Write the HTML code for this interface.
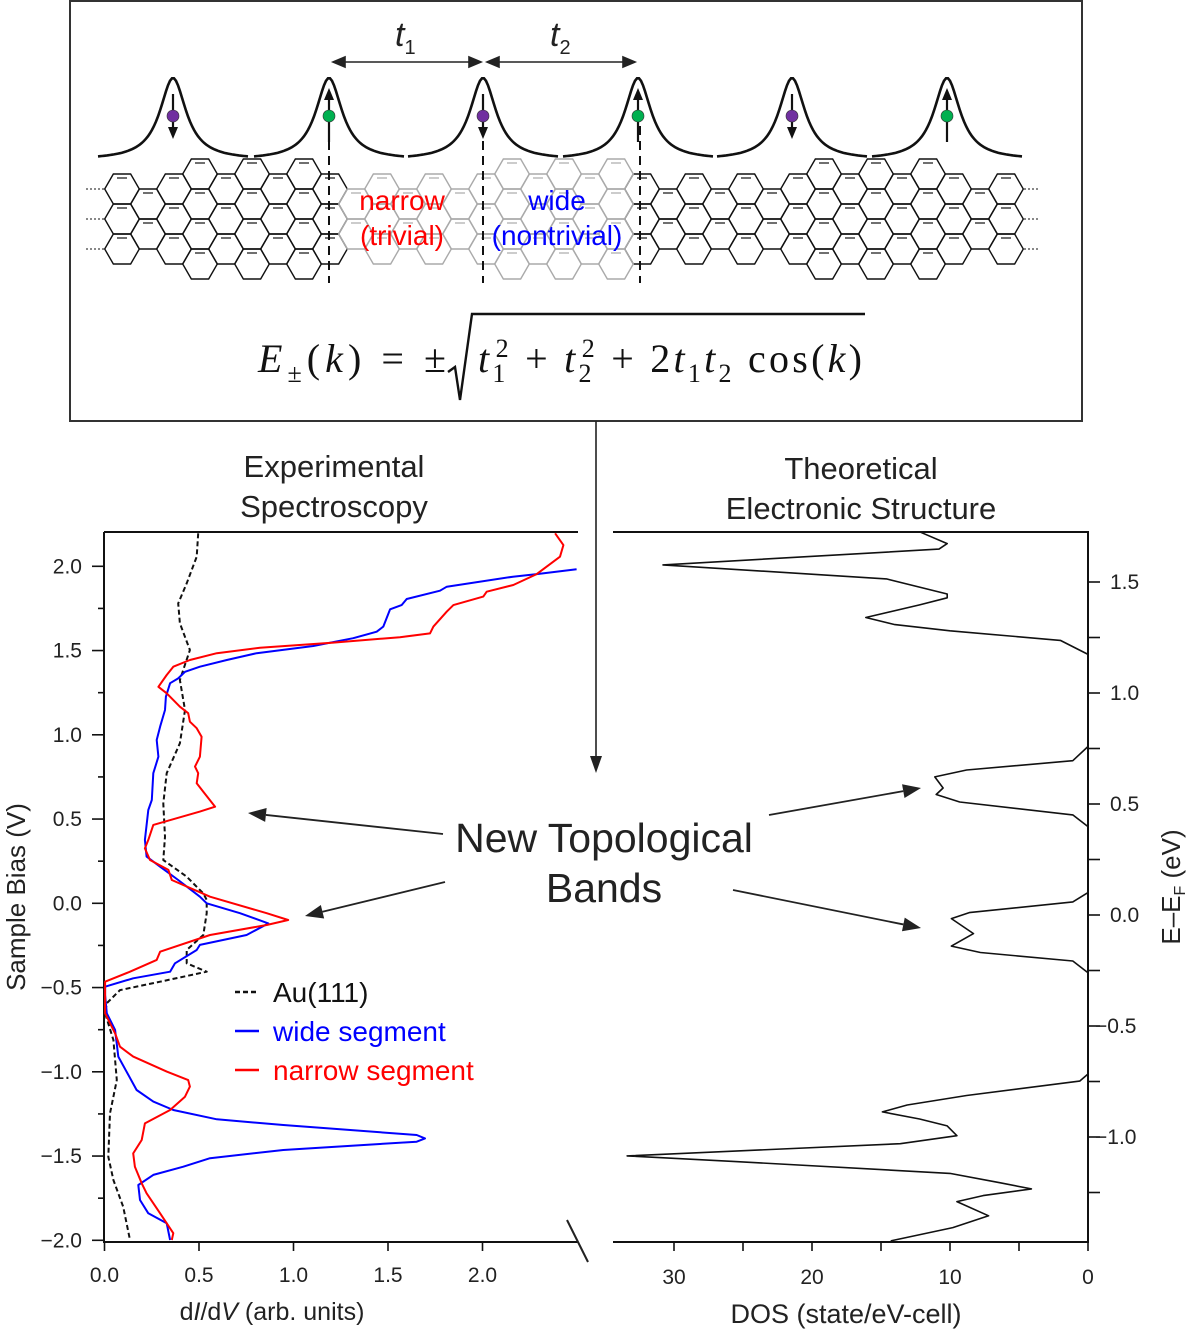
<!DOCTYPE html>
<html><head><meta charset="utf-8"><title>Topological bands figure</title>
<style>
html,body{margin:0;padding:0;background:#fff;}
svg{display:block;font-family:"Liberation Sans",Arial,sans-serif;}
</style></head>
<body>
<svg id="fig" width="1195" height="1335" viewBox="0 0 1195 1335" xmlns="http://www.w3.org/2000/svg">
<rect x="0" y="0" width="1195" height="1335" fill="#fff"/>
<g id="schematic">
  <rect x="70" y="1" width="1012" height="420" fill="none" stroke="#333" stroke-width="2"/>
  <g id="ribbon"></g>
  <g id="peaks"></g>
  <g stroke="#222" stroke-width="1.6" fill="#222">
    <line x1="340" y1="62" x2="474" y2="62"/>
    <path d="M333 62 L345 57 L345 67 Z"/><path d="M481 62 L469 57 L469 67 Z"/>
  </g>
  <g stroke="#222" stroke-width="1.6" fill="#222">
    <line x1="494" y1="62" x2="628" y2="62"/>
    <path d="M487 62 L499 57 L499 67 Z"/><path d="M635 62 L623 57 L623 67 Z"/>
  </g>
  <text x="395" y="46" font-size="34" font-style="italic" fill="#222">t<tspan font-size="20" font-style="normal" dy="8">1</tspan></text>
  <text x="550" y="46" font-size="34" font-style="italic" fill="#222">t<tspan font-size="20" font-style="normal" dy="8">2</tspan></text>
  <text x="402" y="210" font-size="28" fill="#ff0000" text-anchor="middle">narrow</text>
  <text x="402" y="245" font-size="28" fill="#ff0000" text-anchor="middle">(trivial)</text>
  <text x="557" y="210" font-size="28" fill="#0000ff" text-anchor="middle">wide</text>
  <text x="557" y="245" font-size="28" fill="#0000ff" text-anchor="middle">(nontrivial)</text>
  <g font-family="'Liberation Serif',serif" fill="#111">
    <text x="258" y="372" font-size="40" textLength="188" lengthAdjust="spacing"><tspan font-style="italic">E</tspan><tspan font-size="26" dy="10">±</tspan><tspan dy="-10">(</tspan><tspan font-style="italic">k</tspan>) = ±</text>
    <path d="M448 372 L455 367 L460 400 L472 314 L865 314" fill="none" stroke="#111" stroke-width="2.4"/>
    <text x="478" y="372" font-size="40" textLength="384" lengthAdjust="spacing"><tspan font-style="italic">t</tspan><tspan font-size="26" dy="10">1</tspan><tspan font-size="26" dx="-13" dy="-25">2</tspan><tspan dy="15"> + </tspan><tspan font-style="italic">t</tspan><tspan font-size="26" dy="10">2</tspan><tspan font-size="26" dx="-13" dy="-25">2</tspan><tspan dy="15"> + 2</tspan><tspan font-style="italic">t</tspan><tspan font-size="26" dy="10">1</tspan><tspan font-style="italic" dy="-10">t</tspan><tspan font-size="26" dy="10">2</tspan><tspan dy="-10"> cos(</tspan><tspan font-style="italic">k</tspan>)</text>
  </g>
</g>
<line x1="596" y1="421" x2="596" y2="760" stroke="#222" stroke-width="1.6"/>
<path d="M596 773 L590 756 L602 756 Z" fill="#222"/>

<text x="334" y="477" font-size="31" fill="#222" text-anchor="middle">Experimental</text>
<text x="334" y="517" font-size="31" fill="#222" text-anchor="middle">Spectroscopy</text>
<text x="861" y="479" font-size="31" fill="#222" text-anchor="middle">Theoretical</text>
<text x="861" y="519" font-size="31" fill="#222" text-anchor="middle">Electronic Structure</text>

<g id="left-chart"></g>
<g id="right-chart"></g>

<text x="604" y="852" font-size="41" fill="#222" text-anchor="middle">New Topological</text>
<text x="604" y="902" font-size="41" fill="#222" text-anchor="middle">Bands</text>
<g id="annot-arrows"></g>
<line x1="567" y1="1220" x2="588" y2="1262" stroke="#222" stroke-width="2"/>
</svg>
<script>
// ---------- data: experimental spectroscopy (x = dI/dV, y = bias V) ----------
const wideX = [2.498,2.287,2.161,1.811,1.775,1.599,1.572,1.511,1.475,1.440,1.316,1.105,0.805,0.647,0.505,0.426,0.390,0.347,0.325,0.320,0.294,0.276,0.285,0.258,0.250,0.232,0.214,0.223,0.294,0.390,0.505,0.541,0.717,0.867,0.752,0.505,0.488,0.373,0.347,0.152,0.003,0.003,0.012,0.056,0.073,0.170,0.258,0.364,0.594,0.946,1.652,1.696,1.652,0.946,0.558,0.417,0.258,0.179,0.188,0.232,0.329,0.347];
const wideV = [1.982,1.954,1.938,1.879,1.855,1.806,1.770,1.745,1.642,1.612,1.573,1.527,1.484,1.444,1.404,1.374,1.335,1.306,1.226,1.147,1.048,0.969,0.870,0.772,0.613,0.554,0.376,0.277,0.217,0.138,0.039,0,-0.059,-0.119,-0.188,-0.247,-0.277,-0.356,-0.406,-0.445,-0.495,-0.544,-0.653,-0.752,-0.910,-1.108,-1.177,-1.227,-1.282,-1.316,-1.375,-1.395,-1.415,-1.464,-1.513,-1.563,-1.612,-1.672,-1.761,-1.840,-1.899,-1.998];
const narrowX = [2.384,2.428,2.410,2.287,2.163,2.022,2.004,1.846,1.811,1.740,1.722,1.563,1.211,0.823,0.594,0.452,0.364,0.329,0.285,0.329,0.399,0.443,0.452,0.488,0.514,0.505,0.479,0.496,0.488,0.523,0.585,0.505,0.258,0.232,0.214,0.241,0.338,0.356,0.558,0.858,0.972,0.858,0.558,0.294,0.276,0.135,0.003,0.003,0.056,0.082,0.152,0.329,0.443,0.452,0.426,0.347,0.214,0.197,0.152,0.161,0.197,0.223,0.294,0.364,0.356];
const narrowV = [2.196,2.126,2.057,1.954,1.889,1.849,1.820,1.770,1.731,1.642,1.602,1.579,1.547,1.517,1.484,1.444,1.404,1.355,1.285,1.246,1.167,1.128,1.078,1.039,0.989,0.870,0.811,0.772,0.712,0.662,0.573,0.544,0.465,0.376,0.326,0.257,0.198,0.138,0.039,-0.059,-0.099,-0.129,-0.188,-0.287,-0.336,-0.406,-0.465,-0.653,-0.772,-0.851,-0.910,-0.999,-1.049,-1.088,-1.148,-1.227,-1.306,-1.405,-1.484,-1.563,-1.662,-1.721,-1.840,-1.958,-1.998];
const auX = [0.496,0.488,0.435,0.390,0.399,0.452,0.399,0.426,0.399,0.329,0.311,0.320,0.311,0.435,0.523,0.541,0.541,0.523,0.435,0.435,0.541,0.294,0.082,0.012,0.003,0.047,0.065,0.029,0.020,0.047,0.099,0.135];
const auV = [2.196,2.057,1.899,1.780,1.662,1.503,1.325,1.147,0.950,0.772,0.593,0.395,0.257,0.158,0.059,0.020,-0.059,-0.188,-0.277,-0.356,-0.406,-0.465,-0.515,-0.593,-0.653,-0.811,-1.049,-1.246,-1.504,-1.642,-1.801,-1.998];
const leftXTicks = ["0.0","0.5","1.0","1.5","2.0"];
const leftYTicks = ["2.0","1.5","1.0","0.5","0.0","\u22120.5","\u22121.0","\u22121.5","\u22122.0"];
// ---------- data: theoretical DOS (x = DOS, y = energy eV) ----------
const dosE = [1.726,1.673,1.648,1.577,1.514,1.446,1.429,1.397,1.340,1.308,1.280,1.237,1.174,0.759,0.695,0.653,0.622,0.572,0.543,0.509,0.451,0.398,0.101,0.059,0.011,-0.016,-0.084,-0.140,-0.169,-0.207,-0.260,-0.716,-0.748,-0.813,-0.856,-0.887,-0.919,-0.950,-0.994,-1.030,-1.085,-1.110,-1.164,-1.206,-1.234,-1.264,-1.291,-1.355,-1.408,-1.468];
const dosV = [12.2,10.2,10.8,30.8,14.6,10.2,10.2,12.2,16.1,14.0,10.0,2.0,0,0,1.1,8.8,11.1,10.5,11.0,9.3,1.1,0,0,1.1,8.6,9.9,8.3,9.9,7.8,1.1,0,0,0.6,8.8,13.1,14.9,12.2,10.2,9.5,13.6,33.4,25.7,10.0,6.4,4.1,7.6,9.5,7.2,9.8,14.3];
const rightXTicks = ["30","20","10","0"];
const rightYTicks = ["1.5","1.0","0.5","0.0","\u22120.5","\u22121.0"];

const NS = "http://www.w3.org/2000/svg";
function mk(tag, attrs, parent){const e=document.createElementNS(NS,tag);for(const k in attrs)e.setAttribute(k,attrs[k]);parent.appendChild(e);return e;}

const xL = v => 104.5 + 189*v;
const yL = v => 903.3 - 168.5*v;
const xR = d => 1088 - 13.8*d;
const yR = e => 915 - 222*e;

// ---------- ribbon ----------
const rib = document.getElementById('ribbon');
function hexPath(cx,cy){const s=17.3,h=15;return `M${cx-s} ${cy} L${cx-s/2} ${cy-h} L${cx+s/2} ${cy-h} L${cx+s} ${cy} L${cx+s/2} ${cy+h} L${cx-s/2} ${cy+h} Z`;}
const hexes=[];
for(let j=0;j<=17;j++){const x=122+52*j;[189,219,249].forEach(y=>hexes.push([x,y]));}
const extraCols=[200,252,304,512,564,616,824,876,928];
for(let j=0;j<=16;j++){const x=148+52*j;[204,234].forEach(y=>hexes.push([x,y]));
  if(extraCols.some(c=>Math.abs(c-x)<4)){hexes.push([x,174]);hexes.push([x,264]);}}
hexes.forEach(([x,y])=>{
  const gray=(x>340&&x<622);
  const p=mk('path',{d:hexPath(x,y),fill:'none',stroke:gray?'#aaa':'#111','stroke-width':1.4},rib);
  
  
  const b=mk('line',{x1:x-5,y1:y-11,x2:x+5,y2:y-11,stroke:gray?'#aaa':'#111','stroke-width':1.2},rib);
  
  
});
[189,219,249].forEach(y=>{
  const a=mk('line',{x1:86,y1:y,x2:104,y2:y,stroke:'#111','stroke-width':1,'stroke-dasharray':'2,2'},rib);
  
  
  const b=mk('line',{x1:1024,y1:y,x2:1040,y2:y,stroke:'#111','stroke-width':1,'stroke-dasharray':'2,2'},rib);
  
  
});

// ---------- peaks + spins ----------
const pk=document.getElementById('peaks');
const peakX=[173,329,483,638,792,947];
peakX.forEach((c,i)=>{
  let d='';for(let t=-75;t<=75;t+=2){const y=160-82/(1+(t/16)*(t/16));d+=(t===-75?'M':'L')+(c+t)+' '+y.toFixed(1)+' ';}
  const p=mk('path',{d:d,fill:'none',stroke:'#111','stroke-width':2.6},pk);
  
  
  const up=i%2===1;
  const ln=mk('line',{x1:c,y1:up?142:94,x2:c,y2:up?96:130,stroke:'#111','stroke-width':2.2},pk);
  
  
  const ah=mk('path',{d:up?`M${c} 88 L${c-5} 100 L${c+5} 100 Z`:`M${c} 139 L${c-5} 127 L${c+5} 127 Z`,fill:'#111'},pk);
  
  
  const dot=mk('circle',{cx:c,cy:116,r:6,fill:up?'#00b050':'#7030a0',stroke:'#333','stroke-width':0.6},pk);
  
  
});
[329,483,640].forEach(x=>{
  const l=mk('line',{x1:x,y1:126,x2:x,y2:283,stroke:'#111','stroke-width':2,'stroke-dasharray':'9,6'},pk);
  
  
});

// ---------- left chart ----------
const L=document.getElementById('left-chart');
let fr=mk('path',{d:'M104 532 L578 532 M104 532 L104 1242 L578 1242',fill:'none',stroke:'#111','stroke-width':2},L);


leftXTicks.forEach((t,i)=>{const v=i*0.5;
  const tk=mk('line',{x1:xL(v),y1:1242,x2:xL(v),y2:1251,stroke:'#111','stroke-width':1.6},L);
  
  
  const tx=mk('text',{x:xL(v),y:1282,'font-size':21,'text-anchor':'middle',fill:'#222'},L);tx.textContent=t;
  
  
});
for(let v=-2;v<=2.001;v+=0.25){const major=Math.abs(v*2-Math.round(v*2))<1e-6;
  const tk=mk('line',{x1:major?92:98,y1:yL(v),x2:104,y2:yL(v),stroke:'#111','stroke-width':1.6},L);
  
  }
leftYTicks.forEach((t,i)=>{const v=2-0.5*i;
  const tx=mk('text',{x:82,y:yL(v)+7,'font-size':21,'text-anchor':'end',fill:'#222'},L);tx.textContent=t;
  
  });
function series(xs,ys,fx,fy,attrs,name,par){let d='';xs.forEach((x,i)=>{d+=(i?'L':'M')+fx(x).toFixed(1)+' '+fy(ys[i]).toFixed(1)+' ';});
  const p=mk('path',Object.assign({d:d,fill:'none','stroke-linejoin':'round'},attrs),par);
  
  return p;}
series(auX,auV,xL,yL,{stroke:'#111','stroke-width':2,'stroke-dasharray':'5,3'},'au111-line',L);
series(wideX,wideV,xL,yL,{stroke:'#0000ff','stroke-width':2},'wide-segment-line',L);
series(narrowX,narrowV,xL,yL,{stroke:'#ff0000','stroke-width':2},'narrow-segment-line',L);
const yt=mk('text',{x:0,y:0,'font-size':26,'text-anchor':'middle',fill:'#222',transform:'translate(25 897) rotate(-90)'},L);yt.textContent='Sample Bias (V)';


const xt=mk('text',{x:272,y:1320,'font-size':25,'text-anchor':'middle',fill:'#222'},L);
xt.innerHTML='d<tspan font-style="italic">I</tspan>/d<tspan font-style="italic">V</tspan> (arb. units)';


const legItems=[['Au(111)','#111','5,3'],['wide segment','#0000ff',''],['narrow segment','#ff0000','']];
legItems.forEach((it,i)=>{const y=992+39*i;
  const ln=mk('line',{x1:235,y1:y,x2:259,y2:y,stroke:it[1],'stroke-width':2.6},L);if(it[2])ln.setAttribute('stroke-dasharray',it[2]);
  
  
  const tx=mk('text',{x:273,y:y+10,'font-size':28,fill:i===0?'#111':it[1]},L);tx.textContent=it[0];
  
  });

// ---------- right chart ----------
const R=document.getElementById('right-chart');
fr=mk('path',{d:'M613 532 L1088 532 L1088 1242 L613 1242',fill:'none',stroke:'#111','stroke-width':2},R);


for(let d=0;d<=30;d+=5){const tk=mk('line',{x1:xR(d),y1:1242,x2:xR(d),y2:1251,stroke:'#111','stroke-width':1.6},R);
  
  }
rightXTicks.forEach((t,i)=>{const d=30-10*i;
  const tx=mk('text',{x:xR(d),y:1284,'font-size':21,'text-anchor':'middle',fill:'#222'},R);tx.textContent=t;
  
  });
for(let e=-1.25;e<=1.501;e+=0.25){const tk=mk('line',{x1:1088,y1:yR(e),x2:1100,y2:yR(e),stroke:'#111','stroke-width':1.6},R);
  
  }
rightYTicks.forEach((t,i)=>{const e=1.5-0.5*i;
  const tx=mk('text',{x:t.startsWith('\u2212')?1095:1110,y:yR(e)+7,'font-size':21,fill:'#222'},R);tx.textContent=t;
  
  });
series(dosV,dosE,xR,yR,{stroke:'#111','stroke-width':1.6},'dos-line',R);
const rx=mk('text',{x:846,y:1323,'font-size':27,'text-anchor':'middle',fill:'#222'},R);rx.textContent='DOS (state/eV-cell)';


const ry=mk('text',{x:0,y:0,'font-size':26,'text-anchor':'middle',fill:'#222',transform:'translate(1180 887) rotate(-90)'},R);
ry.innerHTML='E\u2013E<tspan font-size="16" dy="5">F</tspan><tspan dy="-5"> (eV)</tspan>';



// ---------- annotation arrows ----------
const A=document.getElementById('annot-arrows');
[[443,834,248,813],[445,882,305,916],[769,815,921,788],[733,890,921,928]].forEach(a=>{
  const [x1,y1,x2,y2]=a;const ang=Math.atan2(y2-y1,x2-x1);const L2=18,W=7;
  const bx=x2-L2*Math.cos(ang),by=y2-L2*Math.sin(ang);
  const l=mk('line',{x1:x1,y1:y1,x2:bx,y2:by,stroke:'#222','stroke-width':1.8},A);
  
  
  const h=mk('path',{d:`M${x2} ${y2} L${bx-W*Math.sin(ang)} ${by+W*Math.cos(ang)} L${bx+W*Math.sin(ang)} ${by-W*Math.cos(ang)} Z`,fill:'#222'},A);
  
  
});
</script>
</body></html>
